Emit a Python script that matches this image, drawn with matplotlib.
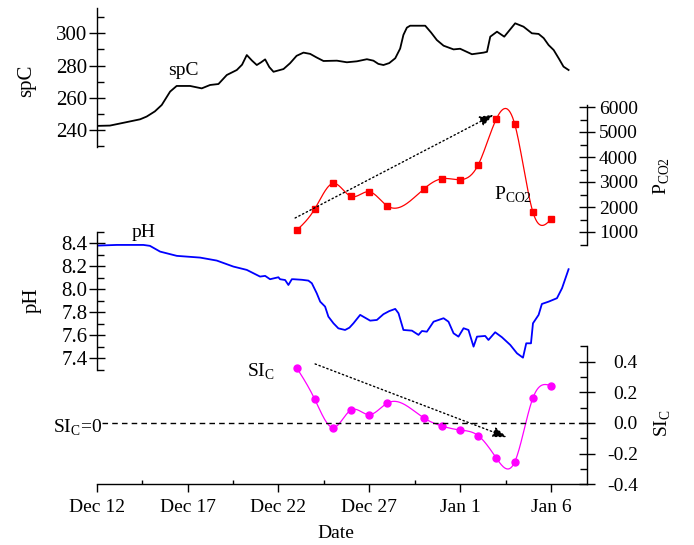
import numpy as np
import matplotlib
matplotlib.use('Agg')
import matplotlib.pyplot as plt
from matplotlib.ticker import MultipleLocator

# days counted from Dec 12
tick_days = [0, 5, 10, 15, 20, 25]
tick_labels = ['Dec 12', 'Dec 17', 'Dec 22', 'Dec 27', 'Jan 1', 'Jan 6']

# specific conductance record
spc_day = [0.0, 0.73, 1.5, 2.39, 2.75, 3.2, 3.58, 4.04, 4.4, 5.14, 5.78, 6.24, 6.7,
           7.16, 7.71, 8.0, 8.26, 8.55, 8.81, 9.05, 9.27, 9.5, 9.73, 10.28, 10.64,
           11.0, 11.38, 11.75, 12.1, 12.48, 13.22, 13.77, 14.32, 14.87, 15.23, 15.5,
           15.78, 16.1, 16.43, 16.7, 16.88, 17.07, 17.25, 17.62, 18.08, 18.4, 18.72,
           19.09, 19.64, 20.0, 20.65, 21.29, 21.48, 21.66, 22.03, 22.43, 23.03, 23.49,
           23.95, 24.32, 24.6, 24.87, 25.15, 25.45, 25.69, 25.97]
spc_val = [242.5, 242.7, 244.5, 246.6, 248.3, 251.5, 255.5, 263.8, 267.3, 267.3,
           265.8, 267.9, 268.5, 274.1, 277.2, 280.5, 286.5, 283.0, 280.3, 282.0,
           283.8, 279.0, 276.1, 277.8, 281.4, 286.0, 288.0, 287.2, 285.0, 282.8,
           283.0, 282.0, 282.6, 283.9, 283.0, 281.0, 280.3, 281.5, 284.5, 290.5,
           299.0, 303.5, 304.7, 304.7, 304.7, 300.5, 295.8, 292.3, 290.0, 290.4,
           287.0, 288.0, 288.5, 297.9, 301.0, 297.9, 306.2, 304.1, 300.0, 299.6,
           297.0, 292.7, 289.6, 284.0, 279.3, 277.2]

# pH record
ph_day = [0.0, 1.1, 2.57, 2.93, 3.49, 4.41, 5.69, 6.61, 7.52, 8.26, 8.99, 9.27, 9.54,
          10.0, 10.09, 10.37, 10.55, 10.74, 10.83, 11.3, 11.65, 11.84, 12.11, 12.3,
          12.57, 12.75, 13.03, 13.3, 13.67, 13.91, 14.13, 14.5, 15.05, 15.42, 15.78,
          16.1, 16.43, 16.61, 16.88, 17.35, 17.71, 17.9, 18.17, 18.54, 19.09, 19.36,
          19.64, 19.91, 20.19, 20.46, 20.74, 20.93, 21.38, 21.56, 21.93, 22.3, 22.76,
          23.13, 23.46, 23.64, 23.9, 24.01, 24.32, 24.5, 24.87, 25.33, 25.61, 25.97]
ph_val = [8.379, 8.385, 8.385, 8.377, 8.327, 8.290, 8.275, 8.249, 8.197, 8.168, 8.110,
          8.116, 8.087, 8.104, 8.087, 8.080, 8.037, 8.087, 8.087, 8.082, 8.075, 8.052,
          7.965, 7.892, 7.849, 7.762, 7.704, 7.660, 7.646, 7.666, 7.704, 7.777, 7.727,
          7.733, 7.783, 7.810, 7.829, 7.791, 7.646, 7.640, 7.603, 7.637, 7.631, 7.718,
          7.748, 7.718, 7.617, 7.588, 7.661, 7.646, 7.501, 7.588, 7.594, 7.559, 7.626,
          7.583, 7.516, 7.443, 7.405, 7.530, 7.530, 7.704, 7.777, 7.872, 7.892, 7.922,
          8.009, 8.174]

# daily samples
sample_day = [11, 12, 13, 14, 15, 16, 18, 19, 20, 21, 22, 23, 24, 25]
pco2 = [1064, 1920, 2944, 2424, 2612, 2040, 2720, 3132, 3092, 3692, 5532, 5332, 1812, 1504]
si_c = [0.361, 0.155, -0.030, 0.085, 0.054, 0.130, 0.033, -0.020, -0.046, -0.083,
        -0.230, -0.256, 0.161, 0.243]


def natural_spline(x, y, n=400):
    x = np.asarray(x, float)
    y = np.asarray(y, float)
    h = np.diff(x)
    m = len(x)
    A = np.zeros((m, m))
    r = np.zeros(m)
    A[0, 0] = A[-1, -1] = 1
    for i in range(1, m - 1):
        A[i, i - 1] = h[i - 1]
        A[i, i] = 2 * (h[i - 1] + h[i])
        A[i, i + 1] = h[i]
        r[i] = 3 * ((y[i + 1] - y[i]) / h[i] - (y[i] - y[i - 1]) / h[i - 1])
    c = np.linalg.solve(A, r)
    b = (y[1:] - y[:-1]) / h - h * (2 * c[:-1] + c[1:]) / 3
    d = (c[1:] - c[:-1]) / (3 * h)
    xs = np.linspace(x[0], x[-1], n)
    k = np.clip(np.searchsorted(x, xs) - 1, 0, m - 2)
    dx = xs - x[k]
    return xs, y[k] + b[k] * dx + c[k] * dx ** 2 + d[k] * dx ** 3


plt.rcParams['font.family'] = 'Liberation Serif'
plt.rcParams['mathtext.fontset'] = 'custom'
plt.rcParams['mathtext.rm'] = 'Liberation Serif'
plt.rcParams['font.size'] = 14

W, H = 694, 545
L, R = 96.7, 587.3
fig = plt.figure(figsize=(W / 100, H / 100), dpi=100)


def px_axes(top, bottom):
    ax = fig.add_axes([L / W, 1 - bottom / H, (R - L) / W, (bottom - top) / H])
    ax.patch.set_visible(False)
    for s in ax.spines.values():
        s.set_visible(False)
        s.set_linewidth(1.0)
    ax.set_xlim(0, 27)
    ax.set_xticks([])
    return ax


def style_left(ax):
    ax.spines['left'].set_visible(True)
    ax.tick_params(axis='y', which='major', direction='inout', length=11, width=1,
                   pad=1, labelsize=15)
    ax.tick_params(axis='y', which='minor', direction='in', length=5, width=1)


def style_right(ax):
    ax.spines['right'].set_visible(True)
    ax.yaxis.tick_right()
    ax.yaxis.set_label_position('right')
    ax.tick_params(axis='y', which='major', direction='inout', length=11, width=1, pad=31)
    ax.tick_params(axis='y', which='minor', direction='in', length=5, width=1)
    for lab in ax.get_yticklabels():
        lab.set_horizontalalignment('right')


# spC panel
ax1 = px_axes(8, 147)
ax1.plot(spc_day, spc_val, color='black', lw=1.3)
ax1.set_ylim(229.4, 315.7)
ax1.yaxis.set_major_locator(MultipleLocator(20))
ax1.yaxis.set_minor_locator(MultipleLocator(10))
style_left(ax1)
ax1.text(3.93, 274.1, 'spC', ha='left', va='baseline')

# PCO2 panel
ax2 = px_axes(105, 245)
xs, ys = natural_spline(sample_day, pco2)
ax2.plot(xs, ys, color='red', lw=0.9)
ax2.plot(sample_day, pco2, ls='none', marker='s', ms=4.5, color='red')
ax2.set_ylim(480, 6080)
ax2.yaxis.set_major_locator(MultipleLocator(1000))
ax2.yaxis.set_minor_locator(MultipleLocator(500))
style_right(ax2)
ax2.annotate('', xy=(21.84, 5692), xytext=(10.92, 1560),
             arrowprops=dict(arrowstyle='-|>,head_length=0.6,head_width=0.22',
                             ls=(0, (1, 2)), lw=1, color='black',
                             shrinkA=0, shrinkB=0))
ax2.text(21.84, 2292, r'P$_\mathregular{CO2}$', ha='left', va='baseline')

# pH panel
ax3 = px_axes(231.7, 370)
ax3.plot(ph_day, ph_val, color='#0000ff', lw=1.3)
ax3.set_ylim(7.298, 8.50)
ax3.set_yticks([7.4, 7.6, 7.8, 8.0, 8.2, 8.4])
ax3.set_yticklabels(['7.4', '7.6', '7.8', '8.0', '8.2', '8.4'])
ax3.yaxis.set_minor_locator(MultipleLocator(0.1))
style_left(ax3)
ax3.text(1.93, 8.455, 'pH', ha='left', va='baseline')

# SIc panel with the date axis
ax4 = px_axes(346, 484.3)
xs, ys = natural_spline(sample_day, si_c)
ax4.plot(xs, ys, color='#ff00ff', lw=0.9)
ax4.plot(sample_day, si_c, ls='none', marker='o', ms=5, color='#ff00ff')
ax4.set_ylim(-0.4, 0.502)
ax4.set_yticks([-0.4, -0.2, 0.0, 0.2, 0.4])
ax4.set_yticklabels(['-0.4', '-0.2', '0.0', '0.2', '0.4'])
ax4.yaxis.set_minor_locator(MultipleLocator(0.1))
style_right(ax4)
ax4.spines['bottom'].set_visible(True)
ax4.set_xticks(tick_days)
ax4.set_xticklabels(tick_labels)
ax4.xaxis.set_minor_locator(MultipleLocator(2.5))
ax4.tick_params(axis='x', which='major', direction='out', length=5.5, width=1, pad=5)
ax4.tick_params(axis='x', which='minor', direction='in', length=3, width=1)
ax4.plot([0.28, 27], [0, 0], color='black', lw=1, ls=(0, (4, 3)))
ax4.annotate('', xy=(22.58, -0.093), xytext=(12.02, 0.385),
             arrowprops=dict(arrowstyle='-|>,head_length=0.6,head_width=0.22',
                             ls=(0, (1, 2)), lw=1, color='black',
                             shrinkA=0, shrinkB=0))
ax4.text(8.28, 0.30, r'SI$_\mathregular{C}$', ha='left', va='baseline')
ax4.text(0.28, -0.063, r'SI$_\mathregular{C}$=0', ha='right', va='baseline')

# axis titles
fig.text(27 / W, 1 - 81 / H, 'spC', rotation=90, ha='center', va='center', fontsize=15)
fig.text(32 / W, 1 - 300 / H, 'pH', rotation=90, ha='center', va='center', fontsize=15)
fig.text(662 / W, 1 - 176 / H, r'P$_\mathregular{CO2}$', rotation=90, ha='center', va='center')
fig.text(663 / W, 1 - 423 / H, r'SI$_\mathregular{C}$', rotation=90, ha='center', va='center')
fig.text(336 / W, 1 - 534 / H, 'Date', ha='center', va='center')

fig.savefig('out.png', dpi=100)
